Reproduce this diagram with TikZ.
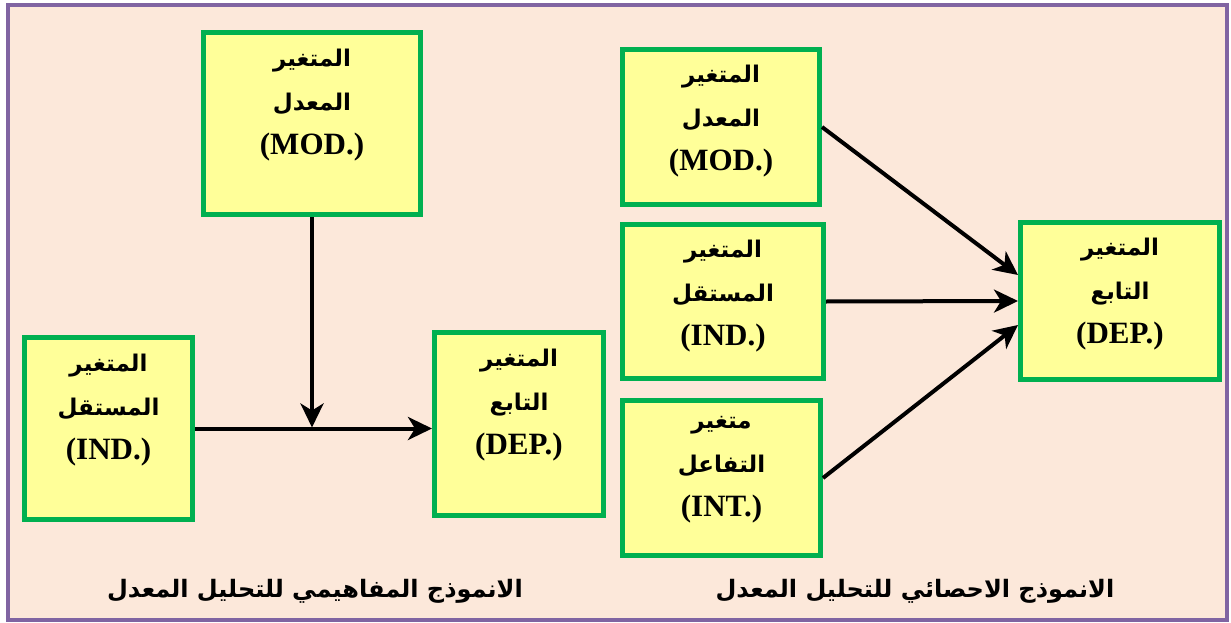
\documentclass[tikz,border=0pt]{standalone}
\usepackage{fontspec}
\setmainfont{Liberation Serif}
\newfontfamily\arabicfont[Script=Arabic]{DejaVu Sans}
\TeXXeTstate=1
\usetikzlibrary{arrows.meta}
\definecolor{boxgreen}{RGB}{0,176,80}
\definecolor{boxyellow}{RGB}{255,255,153}
\definecolor{bgpeach}{RGB}{252,232,218}
\definecolor{framepurple}{RGB}{128,100,162}
\newcommand{\artxt}[1]{{\arabicfont\bfseries\fontsize{23}{44}\selectfont\beginR #1\endR}}
\tikzset{
	varbox/.style={draw=boxgreen, line width=5pt, fill=boxyellow, inner sep=0pt},
	vartext/.style={anchor=north, align=center, inner sep=0pt, font=\bfseries\fontsize{31}{44}\selectfont},
	captext/.style={font=\arabicfont\bfseries\fontsize{24}{30}\selectfont},
	link/.style={line width=4pt, -{Stealth[length=24pt,width=23pt,inset=7pt]}}
}
\begin{document}
\begin{tikzpicture}[x=1pt,y=-1pt]
				\useasboundingbox (0,0) rectangle (1231,623);
				%frame
				\draw[framepurple, line width=4pt, fill=bgpeach] (8,5) rectangle (1227,620);
				%conceptual model
				\node[varbox, minimum width=217pt, minimum height=182pt] (modL) at (312,123.5) {};
				\node[varbox, minimum width=168pt, minimum height=182pt] (indL) at (108.5,428.5) {};
				\node[varbox, minimum width=169pt, minimum height=183pt] (depL) at (519,424) {};
				\node[vartext] (modL-t) at ([yshift=-19pt]modL.north) {\artxt{المتغير}\\\artxt{المعدل}\\(MOD.)};
				\node[vartext] (indL-t) at ([yshift=-19pt]indL.north) {\artxt{المتغير}\\\artxt{المستقل}\\(IND.)};
				\node[vartext] (depL-t) at ([yshift=-19pt]depL.north) {\artxt{المتغير}\\\artxt{التابع}\\(DEP.)};
				\coordinate (join) at ([yshift=1pt]modL.south |- indL.east);
				\draw[link] (indL.east) -- (indL.east -| depL.west);
				\draw[link] (modL.south) -- (join);
				%statistical model
				\node[varbox, minimum width=197pt, minimum height=155pt] (modR) at (721,127) {};
				\node[varbox, minimum width=201pt, minimum height=154pt] (indR) at (723,301.5) {};
				\node[varbox, minimum width=198pt, minimum height=155pt] (intR) at (721.5,478) {};
				\node[varbox, minimum width=199pt, minimum height=157pt] (depR) at (1120,301) {};
				\node[vartext] (modR-t) at ([yshift=-18pt]modR.north) {\artxt{المتغير}\\\artxt{المعدل}\\(MOD.)};
				\node[vartext] (indR-t) at ([yshift=-18pt]indR.north) {\artxt{المتغير}\\\artxt{المستقل}\\(IND.)};
				\node[vartext] (intR-t) at ([yshift=-18pt]intR.north) {\artxt{متغير}\\\artxt{التفاعل}\\(INT.)};
				\node[vartext] (depR-t) at ([yshift=-18pt]depR.north) {\artxt{المتغير}\\\artxt{التابع}\\(DEP.)};
				\draw[link] (modR.east) -- ([yshift=26pt]depR.west);
				\draw[link] (indR.east) -- (depR.west);
				\draw[link] (intR.east) -- ([yshift=-24pt]depR.west);
				%captions
				\node[captext] (capL) at (315,591) {\beginR الانموذج المفاهيمي للتحليل المعدل\endR};
				\node[captext] (capR) at (915,591) {\beginR الانموذج الاحصائي للتحليل المعدل\endR};
\end{tikzpicture}
\end{document}
